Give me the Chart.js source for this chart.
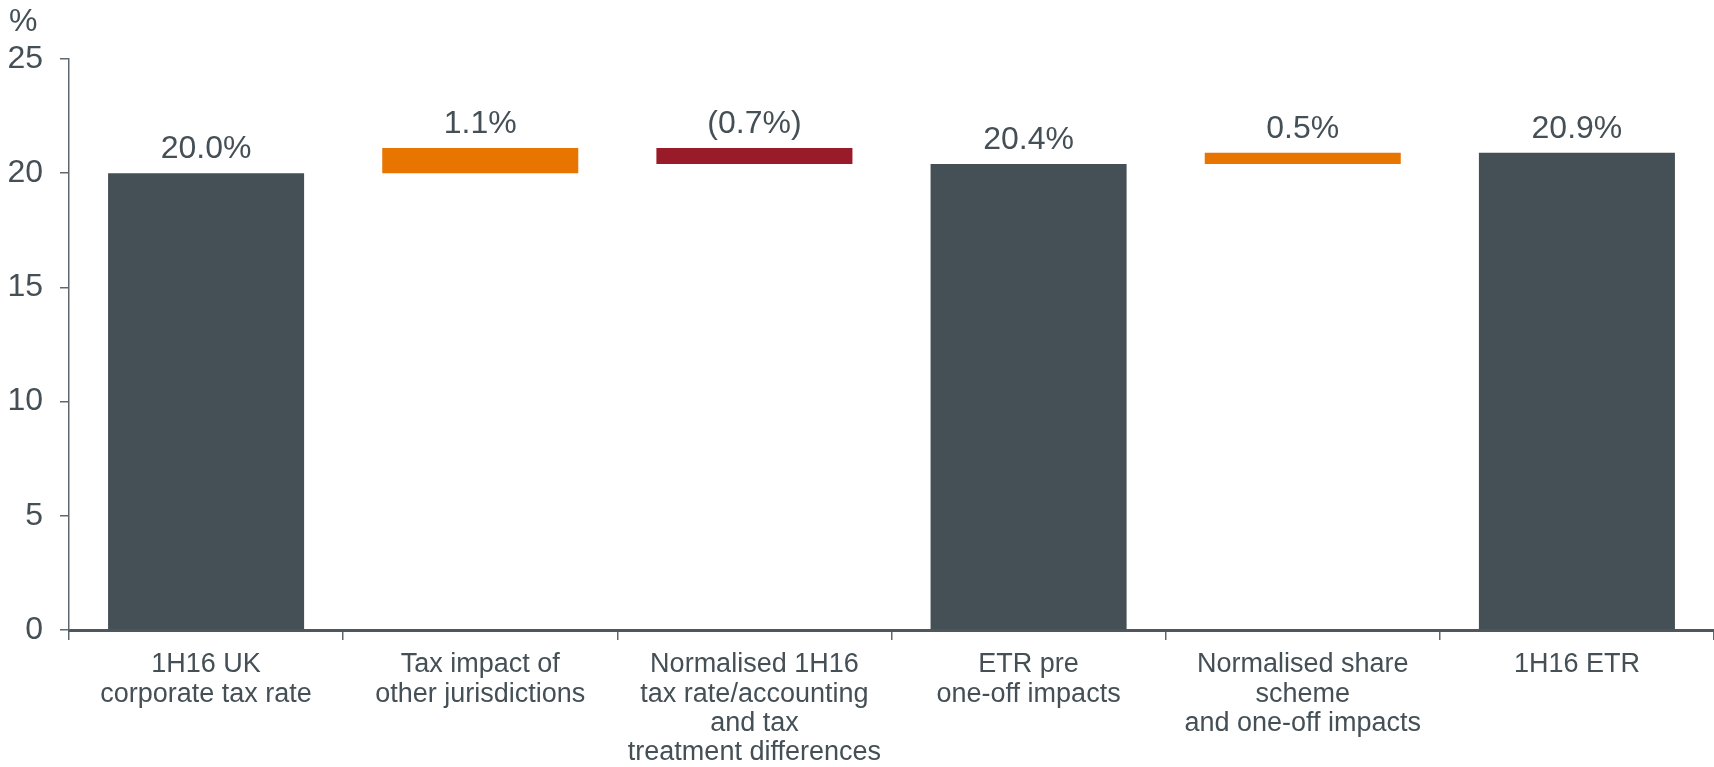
<!DOCTYPE html>
<html>
<head>
<meta charset="utf-8">
<script src="https://cdn.jsdelivr.net/npm/chart.js@4"></script>
<style>
  html, body { margin: 0; padding: 0; background: #fff; }
  #wrap { width: 1714px; height: 767px; }
</style>
</head>
<body>
<div id="wrap"><canvas id="taxChart" width="1714" height="767"></canvas></div>
<script>
// data
const categories = [
    ["1H16 UK", "corporate tax rate"],
    ["Tax impact of", "other jurisdictions"],
    ["Normalised 1H16", "tax rate/accounting", "and tax", "treatment differences"],
    ["ETR pre", "one-off impacts"],
    ["Normalised share", "scheme", "and one-off impacts"],
    ["1H16 ETR"],
];
const barFrom = [0, 20.0, 20.4, 0, 20.4, 0];
const barTo = [20.0, 21.1, 21.1, 20.4, 20.9, 20.9];
const valueLabels = ["20.0%", "1.1%", "(0.7%)", "20.4%", "0.5%", "20.9%"];
const yTicks = [0, 5, 10, 15, 20, 25];

const barColors = ["#444f56", "#e87500", "#991a28", "#444f56", "#e87500", "#444f56"];
const textColor = "#444f56";
const axisColor = "#5f686e";

const valueLabelPlugin = {
    id: "valueLabels",
    afterDatasetsDraw(chart) {
        const ctx = chart.ctx;
        const meta = chart.getDatasetMeta(0);
        ctx.save();
        ctx.fillStyle = textColor;
        ctx.font = "32px 'Liberation Sans', Arial, sans-serif";
        ctx.textAlign = "center";
        ctx.textBaseline = "alphabetic";
        meta.data.forEach((bar, i) => {
            const top = Math.min(bar.y, bar.base);
            ctx.fillText(valueLabels[i], bar.x, top - 15);
        });
        // unit label above the y axis
        ctx.textAlign = "left";
        ctx.fillText("%", 9, 31);
        ctx.restore();
    },
};

new Chart(document.getElementById("taxChart"), {
    type: "bar",
    data: {
        labels: categories,
        datasets: [
            {
                data: barFrom.map((v, i) => [v, barTo[i]]),
                backgroundColor: barColors,
                borderWidth: 0,
                categoryPercentage: 1,
                barPercentage: 0.715,
            },
        ],
    },
    options: {
        responsive: false,
        animation: false,
        layout: { padding: { top: 59, right: 0, left: 0, bottom: 0 } },
        plugins: {
            legend: { display: false },
            tooltip: { enabled: false },
        },
        scales: {
            x: {
                grid: {
                    offset: true,
                    drawOnChartArea: false,
                    tickLength: 10,
                    color: axisColor,
                    lineWidth: 1.5,
                },
                border: { color: "#4d575d", width: 3 },
                ticks: {
                    color: textColor,
                    font: { family: "'Liberation Sans Narrow', 'Liberation Sans', Arial, sans-serif", size: 27, lineHeight: 1.09 },
                    padding: 10,
                    maxRotation: 0,
                    autoSkip: false,
                },
                afterFit: (scale) => { scale.height = 767 - 630; },
            },
            y: {
                min: yTicks[0],
                max: yTicks[yTicks.length - 1],
                afterBuildTicks: (scale) => { scale.ticks = yTicks.map((v) => ({ value: v })); },
                grid: {
                    drawOnChartArea: false,
                    tickLength: 9,
                    color: axisColor,
                    lineWidth: 1.5,
                },
                border: { color: axisColor, width: 1.5 },
                ticks: {
                    color: textColor,
                    font: { family: "'Liberation Sans', Arial, sans-serif", size: 32 },
                    padding: 17,
                },
                afterFit: (scale) => { scale.width = 69; },
            },
        },
    },
    plugins: [valueLabelPlugin],
});
</script>
</body>
</html>
